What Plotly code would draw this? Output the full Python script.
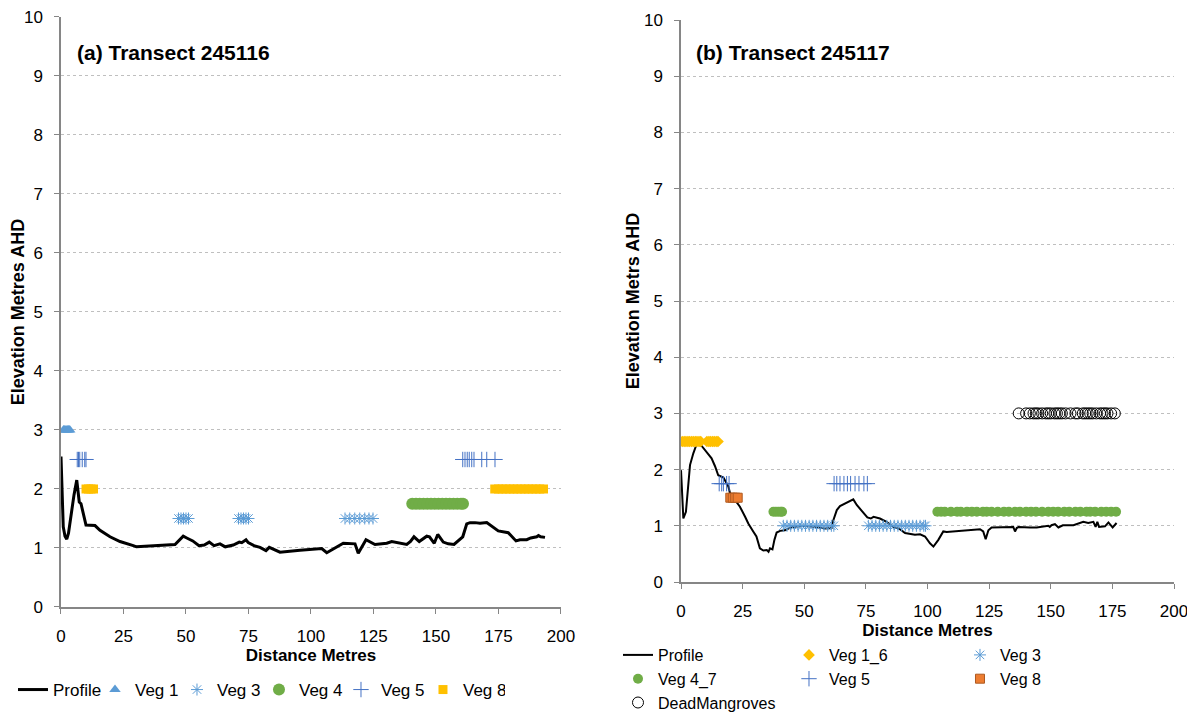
import plotly.graph_objects as go

FONT = "Liberation Sans, Arial, sans-serif"

# ---- (a) Transect 245116 ----
PROFILE_A_DIST = [0, 0.9, 1.6, 2.3, 3, 3.9, 5.2, 6.3, 7.3, 8, 10, 13.6, 15.6, 19.6, 23.6,
                  28.9, 30.2, 45.6, 46.9, 48.9, 50.3, 52.7, 55.2, 57.3, 59.3, 61.2, 63.6,
                  65.7, 68.9, 71.3, 72.3, 74, 74.9, 77.2, 79.6, 82, 83.3, 85.1, 87.6, 95.6,
                  104.3, 106.3, 112.9, 117.6, 118.9, 122, 125.6, 130.3, 132.3, 138.3, 139.8,
                  141.2, 143.3, 146.3, 147.4, 149.3, 150.7, 152.9, 154.9, 157.2, 160.7, 162.3,
                  163.6, 165.6, 167.6, 170.3, 172.3, 174.9, 178.9, 182, 183.6, 186.3, 187.9,
                  190.3, 191, 191.9, 193.6]
PROFILE_A_ELEV = [2.55, 1.36, 1.2, 1.15, 1.25, 1.53, 1.9, 2.15, 1.78, 1.75, 1.39, 1.38, 1.3,
                  1.19, 1.11, 1.04, 1.02, 1.06, 1.11, 1.2, 1.17, 1.12, 1.04, 1.05, 1.1, 1.04,
                  1.07, 1.02, 1.05, 1.1, 1.09, 1.14, 1.09, 1.04, 1.01, 0.955, 1.01, 0.98, 0.93,
                  0.96, 0.99, 0.92, 1.08, 1.07, 0.91, 1.14, 1.06, 1.08, 1.11, 1.06, 1.11, 1.19,
                  1.11, 1.2, 1.19, 1.08, 1.23, 1.1, 1.07, 1.06, 1.19, 1.41, 1.43, 1.43, 1.42,
                  1.43, 1.37, 1.29, 1.26, 1.12, 1.14, 1.14, 1.17, 1.19, 1.21, 1.19, 1.18]

VEG1_A_DIST = [1, 1.5, 2, 2.5, 3, 3.5]
VEG1_A_LEVEL = 3
VEG3_A_DIST = [47, 48, 49, 50, 51, 71, 72, 73, 74, 75, 113.6, 115.5, 117.5, 119.5, 121.5,
               123.2, 124.8]
VEG3_A_LEVEL = 1.5
VEG4_A_DIST = [140.5, 142, 143.5, 145, 146.5, 148, 149.5, 151, 152.5, 154, 155.5, 157,
               158.5, 160, 160.8]
VEG4_A_LEVEL = 1.75
VEG5_A_DIST = [6.5, 7, 7.5, 8.5, 9.5, 10, 160.7, 161.6, 162.5, 163.3, 164.3, 165.2, 168.3,
               170.3, 173.6]
VEG5_A_LEVEL = 2.5
VEG8_A_DIST = [10, 11, 12, 13, 173.5, 175, 176.5, 178, 179.5, 181, 182.5, 184, 185.5, 187,
               188.5, 190, 191.5, 193]
VEG8_A_LEVEL = 2

# ---- (b) Transect 245117 ----
PROFILE_B_DIST = [0, 0.95, 2, 3, 3.65, 5, 6.4, 8.4, 10.4, 12.4, 13.8, 15.1, 17.2, 19.2, 19.9,
                  21.9, 23.9, 26, 27.3, 29.3, 30.6, 32, 33.4, 34.8, 35.5, 36.1, 37.1, 37.9,
                  38.8, 40.2, 42.2, 43.5, 45.5, 49.6, 55, 58.4, 61.1, 61.8, 63.2, 64.5, 66.5,
                  69.2, 69.9, 71.3, 73.3, 75.6, 77, 78.1, 80.7, 83.4, 86.1, 88.8, 90.9, 92.9,
                  94.9, 97, 99, 101, 102.4, 104.4, 106.4, 107.8, 113.2, 121.3, 122.6, 123.6,
                  124.7, 126, 134.8, 135.5, 136.2, 136.9, 141.6, 144.3, 149, 149.6, 150.3,
                  151.7, 153.1, 154.9, 159.2, 160.5, 163.2, 165.2, 167.3, 168.2, 168.9, 169.6,
                  172, 173.4, 175.1, 176.7]
PROFILE_B_ELEV = [1.99, 1.13, 1.25, 1.81, 2.08, 2.29, 2.46, 2.42, 2.32, 2.2, 2.06, 1.9, 1.86,
                  1.7, 1.58, 1.47, 1.34, 1.16, 1.04, 0.9, 0.81, 0.6, 0.56, 0.57, 0.54, 0.6,
                  0.58, 0.75, 0.88, 0.91, 0.92, 0.95, 0.98, 1.0, 0.98, 0.95, 0.96, 1.1, 1.28,
                  1.35, 1.4, 1.46, 1.47, 1.37, 1.27, 1.15, 1.13, 1.16, 1.13, 1.07, 0.98, 0.94,
                  0.87, 0.85, 0.84, 0.85, 0.81, 0.69, 0.63, 0.75, 0.9, 0.89, 0.91, 0.94, 0.9,
                  0.76, 0.92, 0.97, 0.98, 0.9, 0.96, 0.98, 0.97, 0.97, 1.0, 0.98, 1.01, 1.03,
                  0.97, 1.01, 1.01, 1.03, 1.07, 1.05, 1.07, 0.98, 1.07, 0.98, 0.99, 1.06, 0.97,
                  1.05]

VEG16_B_DIST = [0.5, 1.3, 2, 2.8, 3.5, 4.3, 5, 5.8, 6.5, 7.3, 8, 10.5, 11.3, 12, 12.8, 13.5,
                14.3, 15]
VEG16_B_LEVEL = 2.5
VEG3_B_DIST = [41.5, 43, 44.5, 46, 47.5, 49, 50.5, 52, 53.5, 55, 56.5, 58, 59.5, 61, 62, 76,
               77.5, 79, 80.5, 82, 83.5, 85, 86.5, 88, 89.5, 91, 92.5, 94, 95.5, 97, 98.5, 99.2]
VEG3_B_LEVEL = 1
VEG47_B_DIST = [37.5, 38.5, 39.5, 40.5, 41, 104, 105.5, 107, 109.5, 112, 113.5, 116, 118, 120,
                122.5, 124, 126, 128.5, 131, 133, 135.5, 137.5, 140, 142, 144, 146.5, 149, 151,
                153, 155.5, 157.5, 160, 162, 164.5, 166, 168, 170.5, 172.5, 174.5, 176.5]
VEG47_B_LEVEL = 1.25
VEG5_B_DIST = [15.5, 16.5, 17.2, 18.5, 19.5, 62.1, 63.2, 64.5, 66.1, 67.5, 68.8, 70.6, 72.2,
               74.2, 75.6]
VEG5_B_LEVEL = 1.75
VEG8_B_DIST = [20, 21, 22, 23]
VEG8_B_LEVEL = 1.5
DEAD_B_DIST = [137, 140, 141.5, 143, 144, 145, 146.5, 148, 149, 150, 151.5, 152.5, 153.5,
               154.5, 156, 158, 160, 161, 163, 164, 165, 166, 167, 168.5, 170, 171, 172, 173,
               174.5, 176]
DEAD_B_LEVEL = 3

X_TICKS = [0, 25, 50, 75, 100, 125, 150, 175, 200]
Y_TICKS = list(range(0, 11))


def veg(dist, level, name, symbol, color, size, xa, legend, group=None, line_color=None,
        line_width=0):
    return go.Scatter(
        x=dist,
        y=[level] * len(dist),
        mode="markers",
        name=name,
        xaxis=xa,
        yaxis=xa.replace("x", "y"),
        legend=legend,
        legendgroup=group,
        marker=dict(symbol=symbol, color=color, size=size,
                    line=dict(color=line_color or color, width=line_width)),
    )


fig = go.Figure()

# left panel
fig.add_trace(go.Scatter(x=PROFILE_A_DIST, y=PROFILE_A_ELEV, mode="lines", name="Profile",
                         line=dict(color="black", width=3), xaxis="x", yaxis="y",
                         legend="legend"))
fig.add_trace(veg(VEG1_A_DIST, VEG1_A_LEVEL, "Veg 1", "triangle-up", "#5B9BD5", 10, "x", "legend"))
fig.add_trace(veg(VEG3_A_DIST, VEG3_A_LEVEL, "Veg 3", "asterisk-open", "#5B9BD5", 10, "x",
                  "legend", line_width=1))
fig.add_trace(veg(VEG4_A_DIST, VEG4_A_LEVEL, "Veg 4", "circle", "#70AD47", 12, "x", "legend"))
fig.add_trace(veg(VEG5_A_DIST, VEG5_A_LEVEL, "Veg 5", "cross-thin-open", "#4472C4", 11, "x",
                  "legend", line_width=1))
fig.add_trace(veg(VEG8_A_DIST, VEG8_A_LEVEL, "Veg 8", "square", "#FFC000", 9, "x", "legend"))

# right panel, legend groups make the three legend columns
fig.add_trace(go.Scatter(x=PROFILE_B_DIST, y=PROFILE_B_ELEV, mode="lines", name="Profile",
                         line=dict(color="black", width=2), xaxis="x2", yaxis="y2",
                         legend="legend2", legendgroup="c1"))
fig.add_trace(veg(VEG16_B_DIST, VEG16_B_LEVEL, "Veg 1_6", "diamond", "#FFC000", 9, "x2",
                  "legend2", group="c2"))
fig.add_trace(veg(VEG3_B_DIST, VEG3_B_LEVEL, "Veg 3", "asterisk-open", "#5B9BD5", 10, "x2",
                  "legend2", group="c3", line_width=1))
fig.add_trace(veg(VEG47_B_DIST, VEG47_B_LEVEL, "Veg 4_7", "circle", "#70AD47", 10, "x2",
                  "legend2", group="c1"))
fig.add_trace(veg(VEG5_B_DIST, VEG5_B_LEVEL, "Veg 5", "cross-thin-open", "#4472C4", 11, "x2",
                  "legend2", group="c2", line_width=1))
fig.add_trace(veg(VEG8_B_DIST, VEG8_B_LEVEL, "Veg 8", "square", "#ED7D31", 9, "x2",
                  "legend2", group="c3", line_color="#AE5A21", line_width=1))
fig.add_trace(veg(DEAD_B_DIST, DEAD_B_LEVEL, "DeadMangroves", "circle-open", "black", 11, "x2",
                  "legend2", group="c1", line_width=1))

axis_common = dict(
    showline=True,
    linecolor="#868686",
    linewidth=1.5,
    ticks="outside",
    ticklen=5,
    tickcolor="#868686",
    tickfont=dict(size=17, color="black", family=FONT),
    ticklabeloverflow="allow",
    zeroline=False,
)
x_common = dict(axis_common, range=[0, 200], tickvals=X_TICKS, showgrid=False,
                ticklabelstandoff=8,
                title=dict(text="<b>Distance Metres</b>", font=dict(size=17, family=FONT),
                           standoff=2))
y_common = dict(axis_common, range=[0, 10], tickvals=Y_TICKS, showgrid=True,
                gridcolor="#BFBFBF", griddash="dot", gridwidth=1, ticklabelstandoff=8)

# the page body adds an 8px offset, so the figure is 8px smaller each way
fig.update_layout(
    width=1187,
    height=704,
    margin=dict(l=0, r=0, t=0, b=0, autoexpand=False),
    paper_bgcolor="white",
    plot_bgcolor="white",
    font=dict(family=FONT, color="black"),
    xaxis=dict(x_common, domain=[0.04465, 0.46588], anchor="y"),
    yaxis=dict(y_common, domain=[0.14915, 0.98722], anchor="x",
               title=dict(text="<b>Elevation Metres AHD</b>", font=dict(size=18, family=FONT),
                          standoff=0)),
    xaxis2=dict(x_common, domain=[0.56698, 0.98231], anchor="y2"),
    yaxis2=dict(y_common, domain=[0.18466, 0.98295], anchor="x2",
                title=dict(text="<b>Elevation Metrs AHD</b>", font=dict(size=18, family=FONT),
                           standoff=0)),
    legend=dict(orientation="h", x=0.0042, xanchor="left", y=0.03125, yanchor="middle",
                traceorder="normal", entrywidth=37, font=dict(size=17, family=FONT),
                bgcolor="rgba(0,0,0,0)"),
    legend2=dict(orientation="h", x=0.5139, xanchor="left", y=0.10511, yanchor="top",
                 traceorder="grouped", tracegroupgap=0, entrywidth=126,
                 font=dict(size=16, family=FONT), bgcolor="rgba(0,0,0,0)"),
    annotations=[
        dict(text="<b>(a) Transect 245116</b>", xref="paper", yref="paper", x=0.05644,
             y=0.93608, xanchor="left", yanchor="middle", showarrow=False,
             font=dict(size=21, family=FONT)),
        dict(text="<b>(b) Transect 245117</b>", xref="paper", yref="paper", x=0.57793,
             y=0.9375, xanchor="left", yanchor="middle", showarrow=False,
             font=dict(size=21, family=FONT)),
    ],
)

fig.write_html("out.html")
